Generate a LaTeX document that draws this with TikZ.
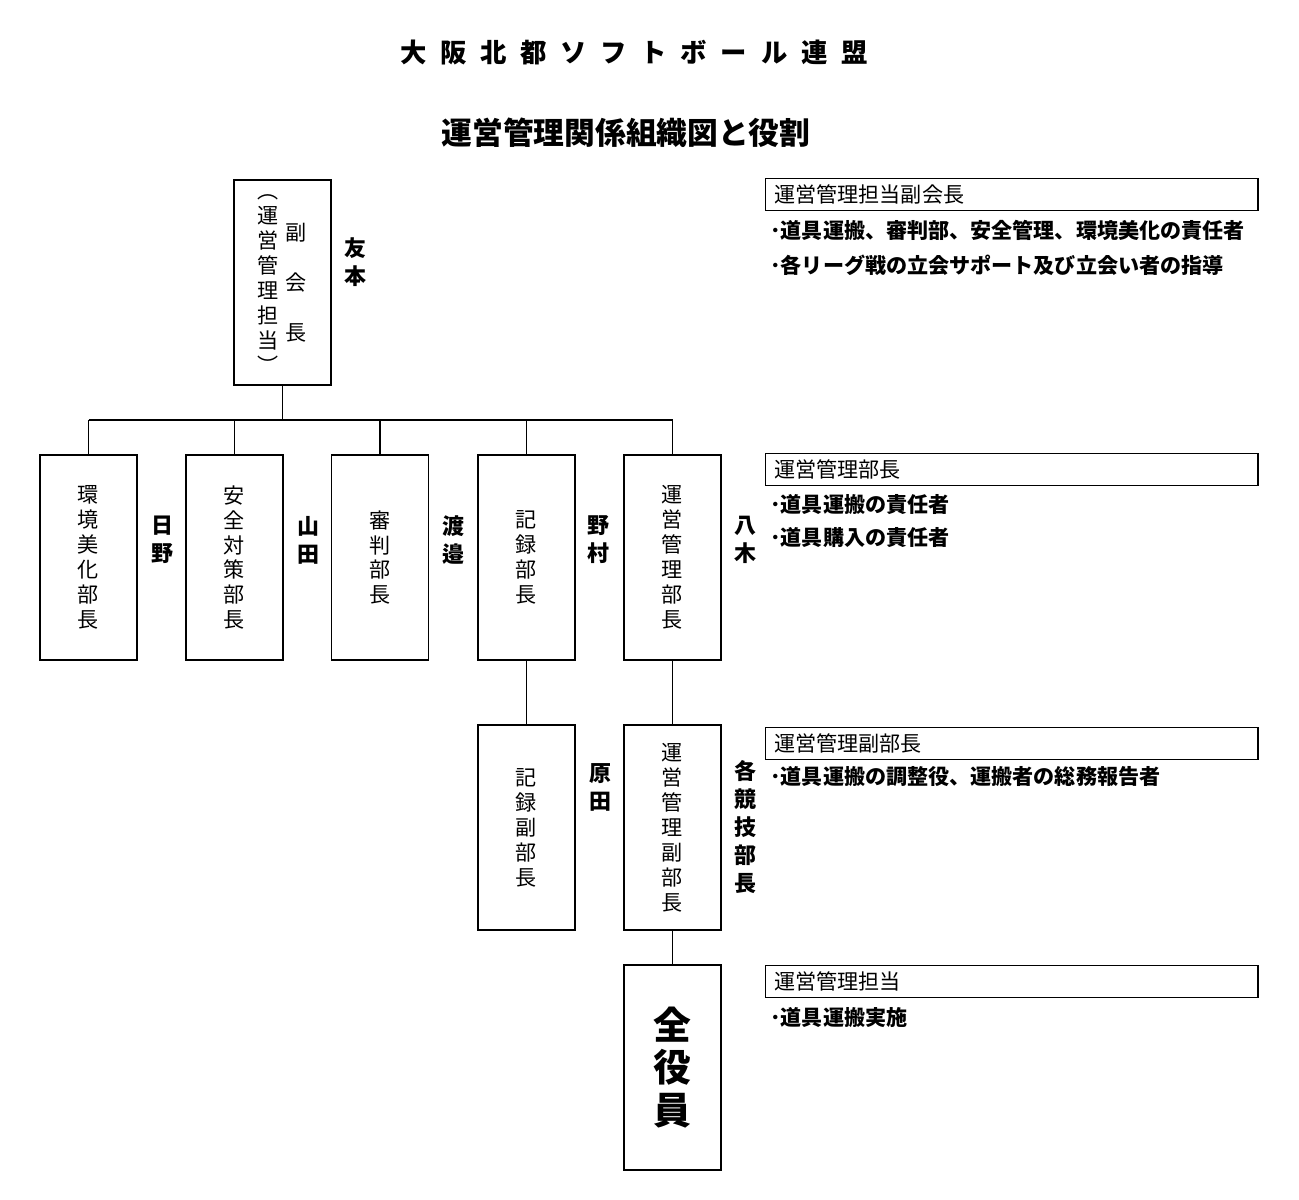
\documentclass[tikz,border=0pt]{standalone}
\usepackage{fontspec}
\newfontfamily\jp{Noto Sans CJK JP}
\newfontfamily\jpwide{Noto Sans CJK JP}[LetterSpace=52]
\usetikzlibrary{positioning}

\begin{document}
\begin{tikzpicture}[x=0.02cm,y=-0.02cm,
post/.style={draw,line width=1pt,minimum width=1.94cm,minimum height=4.1cm,inner sep=0pt,align=center,font=\jp\fontsize{12pt}{14.2pt}\selectfont},
person/.style={align=center,inner sep=0pt,font=\jp\bfseries\fontsize{12.5pt}{16pt}\selectfont},
role/.style={draw,line width=0.8pt,anchor=north west,minimum height=0.64cm,text width=9.5cm,inner xsep=5pt,inner ysep=0pt,align=left,font=\jp\fontsize{12pt}{14pt}\selectfont},
duty/.style={anchor=west,inner sep=0pt,font=\jp\bfseries\fontsize{12pt}{14pt}\selectfont},
link/.style={line width=1pt}]
\useasboundingbox (0,0) rectangle (1299,1200);
% titles
\node[font=\jpwide\bfseries\fontsize{15pt}{18pt}\selectfont] (league) at (634,52) {大阪北都ソフトボール連盟};
\node[font=\jp\bfseries\fontsize{17.5pt}{20pt}\selectfont] (title) at (626,133) {運営管理関係組織図と役割};
% vice president
\node[post] (vp) at (282.5,282.5) {};
\node[post,draw=none,minimum width=0pt,minimum height=0pt] (vpsub) at (268,284) {︵\\運\\営\\管\\理\\担\\当\\︶};
\node[post,draw=none,minimum width=0pt,minimum height=0pt,font=\jp\fontsize{12pt}{28.4pt}\selectfont] (vptitle) at (296,282.5) {副\\会\\長};
\node[person] (tomomoto) at (355,262) {友\\本};
% department heads
\node[post] (env) at (88.5,557.5) {環\\境\\美\\化\\部\\長};
\node[post] (safety) at (234.5,557.5) {安\\全\\対\\策\\部\\長};
\node[post] (umpire) at (380,557.5) {審\\判\\部\\長};
\node[post] (record) at (526.5,557.5) {記\\録\\部\\長};
\node[post] (opmgr) at (672.5,557.5) {運\\営\\管\\理\\部\\長};
\node[person] (hino) at (162,540) {日\\野};
\node[person] (yamada) at (308,540) {山\\田};
\node[person] (watanabe) at (453,540) {渡\\邉};
\node[person] (nomura) at (598,540) {野\\村};
\node[person] (yagi) at (745,540) {八\\木};
% deputies
\node[post] (recsub) at (526.5,827.5) {記\\録\\副\\部\\長};
\node[post] (opsub) at (672.5,827.5) {運\\営\\管\\理\\副\\部\\長};
\node[person] (harada) at (600,787) {原\\田};
\node[person] (eachhead) at (745,827) {各\\競\\技\\部\\長};
\node[post,font=\jp\bfseries\fontsize{21.5pt}{24pt}\selectfont] (allstaff) at (672.5,1067.5) {全\\役\\員};
% connectors
\coordinate (bus) at (0,420);
\draw[link] (vp.south) -- (vp.south |- bus);
\draw[link] (env.north |- bus) -- (opmgr.north |- bus);
\foreach \d in {env,safety,umpire,record,opmgr}
  \draw[link] (\d.north) -- (\d.north |- bus);
\draw[link] (record) -- (recsub);
\draw[link] (opmgr) -- (opsub);
\draw[link] (opsub) -- (allstaff);
% roles
\node[role] (role1) at (765,178) {運営管理担当副会長};
\node[duty] (duty1a) at (770,230) {･道具運搬、審判部、安全管理、環境美化の責任者};
\node[duty] (duty1b) at (770,265) {･各リーグ戦の立会サポート及び立会い者の指導};
\node[role] (role2) at (765,453) {運営管理部長};
\node[duty] (duty2a) at (770,505) {･道具運搬の責任者};
\node[duty] (duty2b) at (770,538) {･道具購入の責任者};
\node[role] (role3) at (765,727) {運営管理副部長};
\node[duty] (duty3a) at (770,777) {･道具運搬の調整役、運搬者の総務報告者};
\node[role] (role4) at (765,965) {運営管理担当};
\node[duty] (duty4a) at (770,1018) {･道具運搬実施};
\end{tikzpicture}
\end{document}
